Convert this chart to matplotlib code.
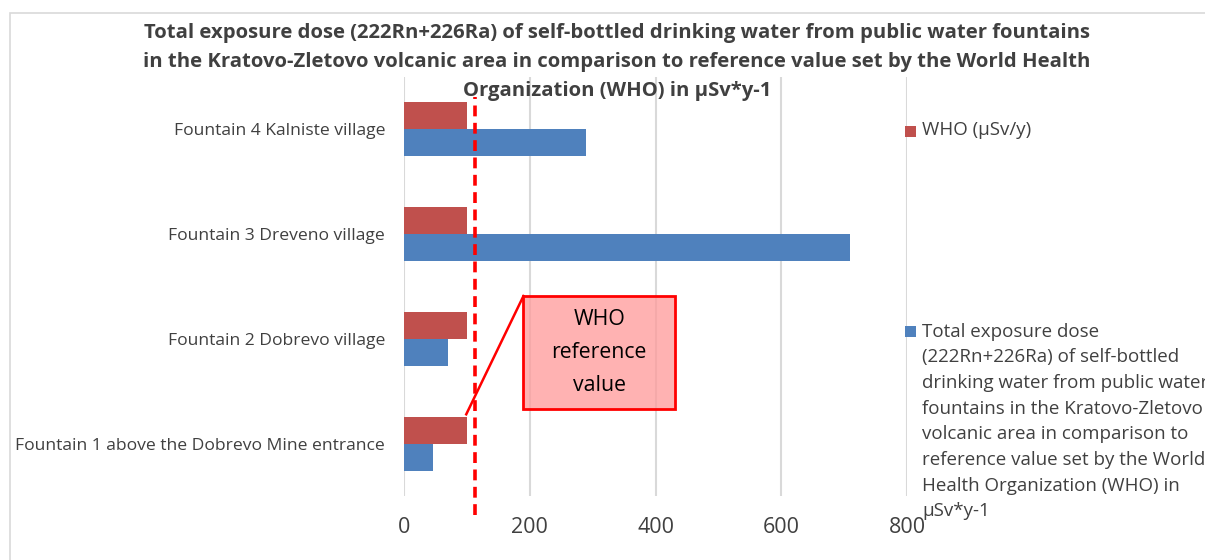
import matplotlib
matplotlib.use("Agg")
import matplotlib.pyplot as plt
from matplotlib.patches import Rectangle
import numpy as np

categories = ["Fountain 1 above the Dobrevo Mine entrance", "Fountain 2 Dobrevo village",
              "Fountain 3 Dreveno village", "Fountain 4 Kalniste village"]
total_dose = [46, 70, 709, 289]
who_values = [100, 100, 100, 100]
who_reference_line = 113
xticks = [0, 200, 400, 600, 800]

title = ("Total exposure dose (222Rn+226Ra) of self-bottled drinking water from public water fountains\n"
         "in the Kratovo-Zletovo volcanic area in comparison to reference value set by the World Health\n"
         "Organization (WHO) in µSv*y-1")
legend_who = "WHO (µSv/y)"
legend_total = ("Total exposure dose\n(222Rn+226Ra) of self-bottled\ndrinking water from public water\n"
                "fountains in the Kratovo-Zletovo\nvolcanic area in comparison to\n"
                "reference value set by the World\nHealth Organization (WHO) in\nµSv*y-1")

FONT = "Open Sans"
plt.rcParams['font.family'] = [FONT, 'DejaVu Sans']
W, H = 1205, 560
fig = plt.figure(figsize=(W/100, H/100), dpi=100)

# chart frame
fig.add_artist(Rectangle((10/W, -0.1), 1.2, (560-13)/H + 0.1, transform=fig.transFigure,
                         fill=False, edgecolor="#D9D9D9", linewidth=1.2))

ax = fig.add_axes([404/W, (560-496)/H, (907-404)/W, (496-77)/H])
y = np.arange(len(categories))
h = 0.257
blue = "#4F81BD"
red = "#C0504D"
ax.barh(y - h/2, total_dose, height=h, color=blue, zorder=3)
ax.barh(y + h/2, who_values, height=h, color=red, zorder=3)
ax.set_xlim(0, 800)
ax.set_ylim(-0.5, len(categories) - 0.5)
ax.set_xticks(xticks)
ax.set_xticklabels([str(v) for v in xticks], fontsize=15.5, color="#404040")
ax.set_yticks(y)
ax.set_yticklabels(categories, fontsize=12.6, color="#404040")
ax.tick_params(length=0, pad=13.5, axis='y')
ax.tick_params(length=0, pad=15, axis='x')
ax.grid(axis='x', color="#D9D9D9", linewidth=1.5, zorder=0)
for s in ax.spines.values():
    s.set_visible(False)
ax.set_facecolor("none")

# WHO reference dashed line (extends beyond plot)
ax.plot([who_reference_line, who_reference_line], [-0.68, 3.31], color="#FF0000",
        linestyle=(0, (3, 1.8)), linewidth=2.6, clip_on=False, zorder=5)

# Annotation box
bx0, bx1 = 190, 431
by0 = ax.transData.inverted().transform((0, 560 - 409))[1]
by1 = ax.transData.inverted().transform((0, 560 - 296))[1]
ax.add_patch(Rectangle((bx0, by0), bx1 - bx0, by1 - by0, facecolor="#FF9999", alpha=0.75,
                       edgecolor="none", zorder=6))
ax.add_patch(Rectangle((bx0, by0), bx1 - bx0, by1 - by0, fill=False,
                       edgecolor="#FF0000", linewidth=2, zorder=7))
ax.text((bx0 + bx1)/2, (by0 + by1)/2, "WHO\nreference\nvalue", ha="center", va="center",
        fontsize=15.3, color="#000000", linespacing=1.72, zorder=8)
ax.plot([bx0, 99], [by1, 0.28], color="#FF0000", linewidth=1.8, zorder=7)

fig.text(617/W, 1 - 62/H, title, ha="center", va="center", fontsize=14.6, fontweight="bold",
         color="#404040", linespacing=1.62)

# legend
fig.add_artist(Rectangle((905/W, 1 - 137/H), 11/W, 11/H, transform=fig.transFigure,
                         facecolor=red, edgecolor="none"))
fig.text(922/W, 1 - 130/H, legend_who, ha="left", va="center", fontsize=13.5, color="#404040")
fig.add_artist(Rectangle((905/W, 1 - 337/H), 11/W, 11/H, transform=fig.transFigure,
                         facecolor=blue, edgecolor="none"))
fig.text(922/W, 1 - (330 + 513)/2/H, legend_total, ha="left", va="center", fontsize=13.5,
         color="#404040", linespacing=1.55)

fig.savefig("out.png", dpi=100)
